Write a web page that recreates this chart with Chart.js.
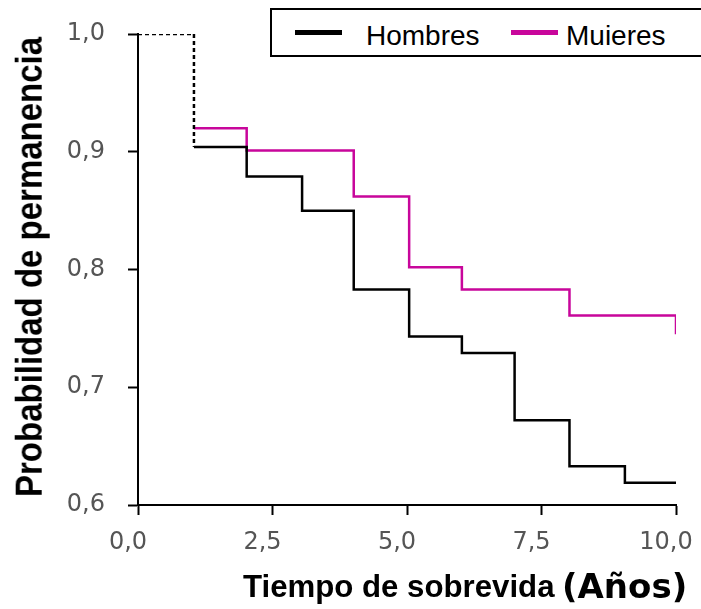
<!DOCTYPE html>
<html>
<head>
<meta charset="utf-8">
<script src="https://cdn.jsdelivr.net/npm/chart.js@4.4.1/dist/chart.umd.min.js"></script>
<style>
  body { margin: 0; background: #fff; }
  #wrap { position: relative; width: 701px; height: 609px; overflow: hidden; }
  .txt { position: absolute; left: 0; top: 0; white-space: nowrap; transform-origin: 0 0; color: #000; }
  #legend { position: absolute; left: 270px; top: 8px; width: 460px; height: 49px; box-sizing: border-box; border: 2px solid #000; background: #fff; }
  .swatch { position: absolute; top: 20px; width: 47px; height: 5px; }
  .ltext { position: absolute; top: 12px; font: 28px/28px "Liberation Sans", Arial, sans-serif; white-space: nowrap; }
</style>
</head>
<body>
<div id="wrap">
  <canvas id="km-chart" width="701" height="609"></canvas>
  <div id="legend"></div>
  <span class="txt" id="y-title" style="font: bold 37px/37px 'Liberation Sans', Arial, sans-serif;">Probabilidad de permanencia</span>
  <span class="txt" id="x-title" style="font: bold 31px/31px 'Liberation Sans', Arial, sans-serif;">Tiempo de sobrevida</span>
  <span class="txt" id="x-unit" style="font: bold 34px/34px 'DejaVu Sans', sans-serif;">(Años)</span>
</div>
<script>
const hombresTiempo = [0, 1.04, 2.02, 3.05, 4.01, 5.04, 6.02, 7.0, 8.02, 9.05, 10.0]
const hombresProb = [1.0, 0.904, 0.879, 0.850, 0.783, 0.743, 0.729, 0.672, 0.633, 0.619, 0.619]
const mujeresTiempo = [0, 1.04, 2.02, 4.01, 5.04, 6.02, 8.02, 10.0, 10.0]
const mujeresProb = [1.0, 0.920, 0.901, 0.862, 0.802, 0.783, 0.761, 0.761, 0.745]
const seriesNames = ['Hombres', 'Muieres']
const seriesColors = ['#000000', '#c8069b']

function toPoints(xs, ys) {
      return xs.map((x, i) => ({ x: x, y: ys[i] }))
}

const fmt = v => Number(v).toFixed(1).replace('.', ',')
const tickFont = { family: 'DejaVu Sans', size: 24 }

const ctx = document.getElementById('km-chart')

const chart = new Chart(ctx, {
      type: 'line',
      data: {
            datasets: [{
                  label: seriesNames[0],
                  data: toPoints(hombresTiempo, hombresProb),
                  borderColor: seriesColors[0],
                  borderWidth: 2.5,
                  stepped: true,
                  pointRadius: 0,
                  fill: false,
                  segment: {
                        borderDash: c => c.p0DataIndex === 0 ? [4, 3] : undefined
                  }
            }, {
                  label: seriesNames[1],
                  data: toPoints(mujeresTiempo, mujeresProb),
                  borderColor: seriesColors[1],
                  borderWidth: 2.5,
                  stepped: true,
                  pointRadius: 0,
                  fill: false,
                  segment: {
                        borderColor: c => c.p0DataIndex === 0 ? 'rgba(0,0,0,0)' : undefined
                  }
            }]
      },
      options: {
            responsive: false,
            animation: false,
            events: [],
            layout: { padding: { top: 34, right: 25, left: 0, bottom: 0 } },
            plugins: {
                  legend: { display: false },
                  tooltip: { enabled: false }
            },
            scales: {
                  x: {
                        type: 'linear',
                        min: 0,
                        max: 10,
                        ticks: {
                              stepSize: 2.5,
                              callback: fmt,
                              font: tickFont,
                              color: '#555',
                              padding: 13,
                              labelOffset: -10,
                              maxRotation: 0,
                              autoSkip: false
                        },
                        grid: { drawOnChartArea: false, drawTicks: true, tickLength: 10, tickColor: '#000', tickWidth: 2 },
                        border: { display: true, color: '#000', width: 2 },
                        afterFit: s => { s.height = 104; s.paddingLeft = 0; s.paddingRight = 0 }
                  },
                  y: {
                        min: 0.6,
                        max: 1.0,
                        ticks: {
                              stepSize: 0.1,
                              callback: fmt,
                              font: tickFont,
                              color: '#555',
                              padding: 23
                        },
                        grid: { drawOnChartArea: false, drawTicks: true, tickLength: 10, tickColor: '#000', tickWidth: 2 },
                        border: { display: true, color: '#000', width: 2 },
                        afterFit: s => { s.width = 138; s.paddingTop = 0; s.paddingBottom = 0 }
                  }
            }
      }
})

// legend box built from the datasets
let legend = document.getElementById('legend')
let swatchLeft = [23, 239]
let textLeft = [94, 294]
chart.data.datasets.forEach((ds, i) => {
      let sw = document.createElement('div')
      sw.className = 'swatch'
      sw.style.left = swatchLeft[i] + 'px'
      sw.style.background = ds.borderColor
      legend.appendChild(sw)
      let t = document.createElement('div')
      t.className = 'ltext'
      t.style.left = textLeft[i] + 'px'
      t.textContent = ds.label
      legend.appendChild(t)
})

// axis titles, squeezed to the widths in the picture
function place(id, left, top, width, rotate) {
      let el = document.getElementById(id)
      let s = width / el.offsetWidth
      if (rotate) {
            el.style.transform = 'translate(' + left + 'px,' + top + 'px) rotate(-90deg) scaleX(' + s + ')'
      } else {
            el.style.transform = 'translate(' + left + 'px,' + top + 'px) scaleX(' + s + ')'
      }
}
place('y-title', 10.7, 497, 460, true)
place('x-title', 243, 570.8, 312, false)
place('x-unit', 562, 569, 125, false)
</script>
</body>
</html>
